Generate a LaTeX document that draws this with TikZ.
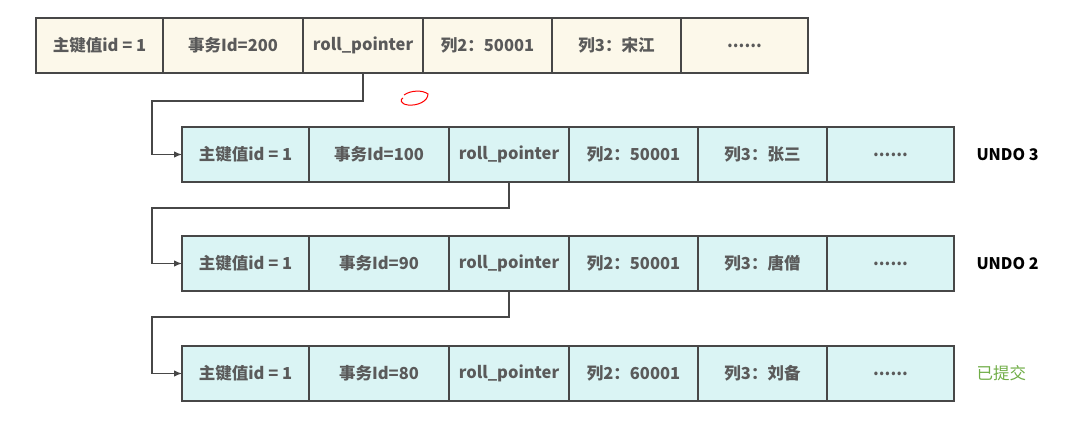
\documentclass[tikz,border=0pt]{standalone}
\usepackage{fontspec}
\setmainfont{Noto Sans CJK SC}
\usetikzlibrary{positioning,arrows.meta}

\definecolor{bordo}{HTML}{474747}
\definecolor{testo}{HTML}{5A5A5A}
\definecolor{crema}{HTML}{FCF8EA}
\definecolor{ciano}{HTML}{DAF4F4}
\definecolor{verde}{HTML}{70AD47}

\tikzset{
	cella/.style={draw=bordo, line width=1.2pt, minimum height=55pt, inner sep=0pt, outer sep=0pt,
		text=testo, font=\fontsize{16.5}{19}\selectfont\bfseries},
	freccia/.style={draw=bordo, line width=1.2pt, -{Latex[length=8pt,width=6.5pt]}},
	etichetta/.style={anchor=west, font=\fontsize{16}{19}\selectfont\bfseries}
}

% Riga di un record: nome, colore, posizione, transazione, colonna 2, colonna 3
\newcommand{\riga}[6]{%
	\node[cella, fill=#2, minimum width=127pt, anchor=north west] (#1a) at (#3) {主键值id = 1};
	\node[cella, fill=#2, minimum width=140pt, right=0pt of #1a] (#1b) {#4};
	\node[cella, fill=#2, minimum width=120pt, right=0pt of #1b] (#1c) {roll\_pointer};
	\node[cella, fill=#2, minimum width=129pt, right=0pt of #1c] (#1d) {#5};
	\node[cella, fill=#2, minimum width=129pt, right=0pt of #1d] (#1e) {#6};
	\node[cella, fill=#2, minimum width=127pt, right=0pt of #1e] (#1f) {......};
}

\begin{document}
\begin{tikzpicture}[x=1pt,y=-1pt]
	\useasboundingbox (0,0) rectangle (1077,422);

	% Record attuale
	\riga{r1}{crema}{36,18}{事务Id=200}{列2：50001}{列3：宋江}

	% Versioni nel log di undo
	\riga{r2}{ciano}{182,127}{事务Id=100}{列2：50001}{列3：张三}
	\riga{r3}{ciano}{182,236}{事务Id=90}{列2：50001}{列3：唐僧}
	\riga{r4}{ciano}{182,346}{事务Id=80}{列2：60001}{列3：刘备}

	% Etichette a destra
	\node[etichetta, right=19pt of r2f] (u3) {UNDO 3};
	\node[etichetta, right=19pt of r3f] (u2) {UNDO 2};
	\node[etichetta, right=19pt of r4f, text=verde, font=\fontsize{16.5}{19}\selectfont] (ok) {已提交};

	% Puntatori roll_pointer
	\draw[freccia] (r1c.south) -- ++(0,28) -| ([xshift=-30pt]r2a.west) -- (r2a.west);
	\draw[freccia] (r2c.south) -- ++(0,26) -| ([xshift=-30pt]r3a.west) -- (r3a.west);
	\draw[freccia] (r3c.south) -- ++(0,26) -| ([xshift=-30pt]r4a.west) -- (r4a.west);

	% Segno rosso a mano
	\draw[red, line width=1pt] (404,95) .. controls (411,90) and (423,90) .. (428,94)
		.. controls (428,101) and (418,106) .. (408,105) .. controls (400,104) and (400,99) .. (403,98);

\end{tikzpicture}
\end{document}
